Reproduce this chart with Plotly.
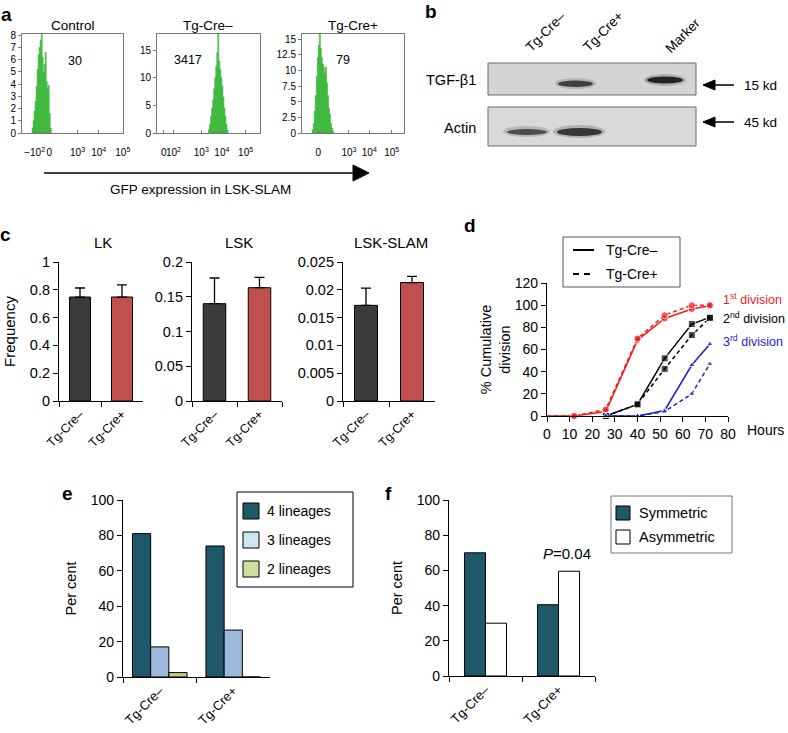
import plotly.graph_objects as go

W, H = 788, 733
FONT = "Arial, 'Liberation Sans', sans-serif"


def fx(x):
    return x / W


def fy(y):
    return 1 - y / H


# ---------------- data ----------------
# panel a: flow histograms (display units 0-100 across each box)
a_titles = ["Control", "Tg-Cre–", "Tg-Cre+"]
a_mfi = ["30", "3417", "79"]
ctrl_bins = list(range(10, 29))
ctrl_counts = [0.4, 1.0, 1.8, 2.6, 3.8, 5.2, 6.4, 7.0, 7.6, 8.1, 6.2, 5.0, 5.6, 6.6, 4.2, 3.6, 3.9, 1.6, 0.4]
neg_bins = list(range(50, 69))
neg_counts = [0.6, 1.5, 3.0, 4.5, 6.0, 8.0, 10.0, 12.0, 14.5, 17.9, 13.0, 11.5, 10.0, 8.5, 6.5, 4.5, 3.0, 1.5, 0.5]
pos_bins = list(range(10, 31))
pos_counts = [0.5, 1.5, 3.5, 6.0, 9.0, 12.0, 14.0, 15.8, 13.5, 12.0, 11.0, 10.5, 9.5, 10.5, 8.0, 6.0, 4.0, 3.0, 1.5, 0.8, 0.3]

ctrl_xticks = [12.5, 27, 55, 76, 99.8]
ctrl_xtext = ["−10<sup>2</sup>", "0", "10<sup>3</sup>", "10<sup>4</sup>", "10<sup>5</sup>"]
neg_xticks = [6.5, 16, 43, 63, 86]
neg_xtext = ["0", "10<sup>2</sup>", "10<sup>3</sup>", "10<sup>4</sup>", "10<sup>5</sup>"]
pos_xticks = [16, 46, 66, 88]
pos_xtext = ["0", "10<sup>3</sup>", "10<sup>4</sup>", "10<sup>5</sup>"]

ctrl_yticks = [0, 1, 2, 3, 4, 5, 6, 7, 8]
neg_yticks = [0, 5, 10, 15]
pos_yticks = [0, 2.5, 5, 7.5, 10, 12.5, 15]
pos_ytext = ["0", "2.5", "5", "7.5", "10", "12.5", "15"]

# panel c
c_cats = ["Tg-Cre–", "Tg-Cre+"]
c_titles = ["LK", "LSK", "LSK-SLAM"]
lk_vals = [0.748, 0.748]
lk_err = [0.065, 0.087]
lsk_vals = [0.14, 0.163]
lsk_err = [0.037, 0.015]
slam_vals = [0.0172, 0.0213]
slam_err = [0.0031, 0.0011]
lk_ticks = [0, 0.2, 0.4, 0.6, 0.8, 1]
lk_text = ["0", "0.2", "0.4", "0.6", "0.8", "1"]
lsk_ticks = [0, 0.05, 0.1, 0.15, 0.2]
lsk_text = ["0", "0.05", "0.1", "0.15", "0.2"]
slam_ticks = [0, 0.005, 0.01, 0.015, 0.02, 0.025]
slam_text = ["0", "0.005", "0.01", "0.015", "0.02", "0.025"]

# panel d
hours1 = [0, 12, 26, 40, 52, 64, 72]
first_neg = [0, 0, 4, 68.5, 88, 96.5, 99.5]
first_pos = [0, 0, 6, 70, 91, 100, 100]
hours23 = [26, 40, 52, 64, 72]
second_neg = [0, 10.5, 52, 83, 89]
second_pos = [0, 10.5, 42.5, 73, 88.5]
third_neg = [0, 0, 5, 46, 65]
third_pos = [0, 0, 4, 20, 47]

# panel e
e_cats = ["Tg-Cre–", "Tg-Cre+"]
e_series = ["4 lineages", "3 lineages", "2 lineages"]
e_4 = [81, 74]
e_3 = [17, 26.5]
e_2 = [2.5, 0]

# panel f
f_cats = ["Tg-Cre–", "Tg-Cre+"]
f_series = ["Symmetric", "Asymmetric"]
f_sym = [70, 40.5]
f_asym = [30, 59.5]

TEAL = "#1f5868"
GREEN = "rgba(80,205,80,0.85)"

fig = go.Figure()
layout = dict(
    width=W, height=H, margin=dict(l=0, r=0, t=0, b=0, autoexpand=False),
    plot_bgcolor="white", paper_bgcolor="white", showlegend=False,
    font=dict(family=FONT, color="black"), barmode="overlay",
)
shapes = []
ann = []


def text(x, y, s, size=13, xanchor="center", yanchor="middle", color="black", angle=0, bold=False):
    ann.append(dict(x=fx(x), y=fy(y), xref="paper", yref="paper", text=(f"<b>{s}</b>" if bold else s),
                    showarrow=False, xanchor=xanchor, yanchor=yanchor, textangle=angle,
                    font=dict(size=size, color=color, family=FONT)))


# ---------------- panel a ----------------
a_boxes = [(22, 123), (157, 260), (302, 404)]
a_top, a_bot = 34, 133
a_yr = [8.1, 17.9, 15.8]
a_bins = [ctrl_bins, neg_bins, pos_bins]
a_counts = [ctrl_counts, neg_counts, pos_counts]
a_xt = [(ctrl_xticks, ctrl_xtext), (neg_xticks, neg_xtext), (pos_xticks, pos_xtext)]
a_yt = [(ctrl_yticks, [str(v) for v in ctrl_yticks]), (neg_yticks, [str(v) for v in neg_yticks]), (pos_yticks, pos_ytext)]
a_mfi_pos = [(75, 61), (188, 60), (343, 60)]
for i in range(3):
    n = i + 1
    x0, x1 = a_boxes[i]
    layout[f"xaxis{n}"] = dict(domain=[fx(x0), fx(x1)], range=[0, 100], anchor=f"y{n}", automargin=False,
                               showline=True, mirror=True, linecolor="#777", linewidth=1,
                               ticks="inside", ticklen=3, tickcolor="#777", tickangle=0,
                               tickvals=a_xt[i][0], ticktext=a_xt[i][1], ticklabelstandoff=10,
                               tickfont=dict(size=10), showgrid=False, zeroline=False)
    layout[f"yaxis{n}"] = dict(domain=[fy(a_bot), fy(a_top)], range=[0, a_yr[i]], anchor=f"x{n}", automargin=False,
                               showline=True, mirror=True, linecolor="#777", linewidth=1,
                               ticks="outside", ticklen=3, tickcolor="#777",
                               tickvals=a_yt[i][0], ticktext=a_yt[i][1],
                               tickfont=dict(size=10), showgrid=False, zeroline=False)
    fig.add_trace(go.Bar(x=a_bins[i], y=a_counts[i], width=1, offset=0,
                         marker=dict(color=GREEN, line=dict(width=0.6, color="rgba(40,170,40,0.9)")),
                         xaxis=f"x{n}", yaxis=f"y{n}"))
    text((x0 + x1) / 2, 26, a_titles[i], size=13.5)
    text(a_mfi_pos[i][0], a_mfi_pos[i][1], a_mfi[i], size=12.5)

text(6, 15, "a", size=19, bold=True)
shapes.append(dict(type="line", xref="paper", yref="paper", x0=fx(44), x1=fx(354), y0=fy(173), y1=fy(173),
                   line=dict(color="black", width=1.3)))
shapes.append(dict(type="path", xref="paper", yref="paper",
                   path=f"M {fx(353)} {fy(165)} L {fx(369)} {fy(173)} L {fx(353)} {fy(181)} Z",
                   fillcolor="black", line=dict(color="black", width=1)))
text(200, 189, "GFP expression in LSK-SLAM", size=13.5)

# ---------------- panel b (blot) ----------------
text(431, 12, "b", size=19, bold=True)
shapes.append(dict(type="rect", xref="paper", yref="paper", x0=fx(488), x1=fx(696), y0=fy(63), y1=fy(95),
                   fillcolor="#d4d4d4", line=dict(color="#6a6a6a", width=1)))
shapes.append(dict(type="rect", xref="paper", yref="paper", x0=fx(488), x1=fx(696), y0=fy(107), y1=fy(146),
                   fillcolor="#d9d9d9", line=dict(color="#6a6a6a", width=1)))
for (bx0, bx1, by0, by1, col, op) in [
    (555, 596, 78, 89, "#777", 0.35), (558, 593, 80.5, 87, "#333", 0.9),
    (644, 686, 74, 86, "#666", 0.35), (647, 683, 76.5, 83.5, "#1a1a1a", 0.95),
    (503, 550, 126, 137, "#777", 0.35), (507, 547, 129, 135, "#3a3a3a", 0.85),
    (553, 605, 125, 138, "#666", 0.35), (557, 602, 128, 136, "#2a2a2a", 0.9),
]:
    shapes.append(dict(type="circle", xref="paper", yref="paper", x0=fx(bx0), x1=fx(bx1), y0=fy(by1), y1=fy(by0),
                       fillcolor=col, opacity=op, line=dict(width=0)))
text(546, 32, "Tg-Cre–", size=13.5, angle=-45)
text(603, 31, "Tg-Cre+", size=13.5, angle=-45)
text(683, 36, "Marker", size=13.5, angle=-45)
text(478, 80, "TGF-β1", size=14.5, xanchor="right")
text(478, 128, "Actin", size=14.5, xanchor="right")
for (ay, lab) in [(85, "15 kd"), (122, "45 kd")]:
    shapes.append(dict(type="line", xref="paper", yref="paper", x0=fx(712), x1=fx(734), y0=fy(ay), y1=fy(ay),
                       line=dict(color="black", width=1.5)))
    shapes.append(dict(type="path", xref="paper", yref="paper",
                       path=f"M {fx(703)} {fy(ay)} L {fx(715)} {fy(ay - 5)} L {fx(715)} {fy(ay + 5)} Z",
                       fillcolor="black", line=dict(color="black", width=1)))
    text(742, ay, lab, size=13.5, xanchor="left")

# ---------------- panel c ----------------
text(5, 235, "c", size=19, bold=True)
c_boxes = [(59, 143), (192, 282), (343, 435)]
c_vals = [lk_vals, lsk_vals, slam_vals]
c_errs = [lk_err, lsk_err, slam_err]
c_ranges = [1, 0.2, 0.025]
c_ticks = [(lk_ticks, lk_text), (lsk_ticks, lsk_text), (slam_ticks, slam_text)]
c_top, c_bot = 262, 401
for i in range(3):
    n = 4 + i
    x0, x1 = c_boxes[i]
    layout[f"xaxis{n}"] = dict(domain=[fx(x0), fx(x1)], type="category", range=[-0.5, 1.5], anchor=f"y{n}",
                               automargin=False,
                               showline=True, linecolor="black", linewidth=1.2, ticks="outside", ticklen=5,
                               tickcolor="black", tickson="boundaries", tickangle=-45,
                               tickfont=dict(size=12.5), showgrid=False, zeroline=False)
    layout[f"yaxis{n}"] = dict(domain=[fy(c_bot), fy(c_top)], range=[0, c_ranges[i]], anchor=f"x{n}",
                               automargin=False,
                               showline=True, linecolor="black", linewidth=1.2, ticks="outside", ticklen=5,
                               tickcolor="black", tickvals=c_ticks[i][0], ticktext=c_ticks[i][1],
                               tickfont=dict(size=14.5), showgrid=False, zeroline=False)
    fig.add_trace(go.Bar(x=c_cats, y=c_vals[i], width=0.5,
                         marker=dict(color=["#3b3b3b", "#c0504d"], line=dict(color="black", width=1)),
                         error_y=dict(type="data", array=c_errs[i], arrayminus=[0, 0], symmetric=False,
                                      color="black", thickness=1.3, width=5),
                         xaxis=f"x{n}", yaxis=f"y{n}"))
    text((x0 + x1) / 2 + 2, 242, c_titles[i], size=15)
layout["yaxis4"]["title"] = dict(text="Frequency", font=dict(size=15), standoff=10)

# ---------------- panel d ----------------
text(470, 225, "d", size=19, bold=True)
layout["xaxis7"] = dict(domain=[fx(547), fx(728)], range=[0, 80], anchor="y7", dtick=10, automargin=False,
                        showline=True, linecolor="black", linewidth=1.2, ticks="outside", ticklen=5,
                        tickcolor="black", tickfont=dict(size=14), showgrid=False, zeroline=False)
layout["yaxis7"] = dict(domain=[fy(416), fy(283)], range=[0, 120], anchor="x7", dtick=20, automargin=False,
                        showline=True, linecolor="black", linewidth=1.2, ticks="outside", ticklen=5,
                        tickcolor="black", tickfont=dict(size=14), showgrid=False, zeroline=False,
                        title=dict(text="% Cumulative<br>division", font=dict(size=14.5), standoff=0))
d_series = [
    (hours1, first_neg, "solid", "#ee1c1c", "circle", 7),
    (hours1, first_pos, "dash", "#ee1c1c", "circle", 7),
    (hours23, second_neg, "solid", "black", "square", 7),
    (hours23, second_pos, "dash", "black", "square", 7),
    (hours23, third_neg, "solid", "#1f1fcc", "triangle-up", 6),
    (hours23, third_pos, "dash", "#1f1fcc", "triangle-up", 6),
]
for (xs, ys, dash, col, sym, sz) in d_series:
    sizes = [0 if x == 0 else sz for x in xs]
    fig.add_trace(go.Scatter(x=xs, y=ys, mode="lines+markers", cliponaxis=False,
                             line=dict(color=col, width=1.5, dash=("4px,3px" if dash == "dash" else "solid")),
                             marker=dict(color=col, symbol=sym, size=sizes),
                             xaxis="x7", yaxis="y7"))
text(765, 430, "Hours", size=14)
text(721, 299, "1<sup>st</sup> division", size=12.5, xanchor="left", color="#ee1c1c")
text(721, 318, "2<sup>nd</sup> division", size=12.5, xanchor="left", color="black")
text(721, 341, "3<sup>rd</sup> division", size=12.5, xanchor="left", color="#1f1fcc")
shapes.append(dict(type="rect", xref="paper", yref="paper", x0=fx(563), x1=fx(680), y0=fy(287), y1=fy(237),
                   fillcolor="white", line=dict(color="#555", width=1)))
shapes.append(dict(type="line", xref="paper", yref="paper", x0=fx(573), x1=fx(594), y0=fy(250), y1=fy(250),
                   line=dict(color="black", width=2)))
shapes.append(dict(type="line", xref="paper", yref="paper", x0=fx(573), x1=fx(594), y0=fy(274), y1=fy(274),
                   line=dict(color="black", width=2, dash="6px,5px")))
text(604, 250, "Tg-Cre–", size=14, xanchor="left")
text(604, 274, "Tg-Cre+", size=14, xanchor="left")

# ---------------- panel e ----------------
text(67, 493, "e", size=19, bold=True)
layout["xaxis8"] = dict(domain=[fx(123), fx(270)], type="category", range=[-0.5, 1.5], anchor="y8",
                        automargin=False,
                        showline=True, linecolor="black", linewidth=1.2, ticks="outside", ticklen=5,
                        tickcolor="black", tickson="boundaries", tickangle=-45,
                        tickfont=dict(size=13), showgrid=False, zeroline=False)
layout["yaxis8"] = dict(domain=[fy(677), fy(500)], range=[0, 100], anchor="x8", dtick=20, automargin=False,
                        showline=True, linecolor="black", linewidth=1.2, ticks="outside", ticklen=5,
                        tickcolor="black", tickfont=dict(size=14), showgrid=False, zeroline=False,
                        title=dict(text="Per cent", font=dict(size=14.5), standoff=10))
e_vals = [e_4, e_3, e_2]
e_cols = [TEAL, "#9db9de", "#bccf72"]
e_w = 0.2475
for k in range(3):
    fig.add_trace(go.Bar(x=e_cats, y=e_vals[k], width=e_w, offset=-1.5 * e_w + k * e_w,
                         marker=dict(color=e_cols[k], line=dict(color="black", width=1)),
                         xaxis="x8", yaxis="y8"))
shapes.append(dict(type="rect", xref="paper", yref="paper", x0=fx(237), x1=fx(353), y0=fy(587), y1=fy(492),
                   fillcolor="white", line=dict(color="black", width=1)))
e_leg_cols = [TEAL, "#c9e8f0", "#cfdf9c"]
for k, yy in enumerate([511, 540, 569]):
    shapes.append(dict(type="rect", xref="paper", yref="paper", x0=fx(243), x1=fx(259), y0=fy(yy + 8), y1=fy(yy - 8),
                       fillcolor=e_leg_cols[k], line=dict(color="black", width=1)))
    text(265, yy, e_series[k], size=14, xanchor="left")

# ---------------- panel f ----------------
text(388, 493, "f", size=19, bold=True)
layout["xaxis9"] = dict(domain=[fx(449), fx(595)], type="category", range=[-0.5, 1.5], anchor="y9",
                        automargin=False,
                        showline=True, linecolor="black", linewidth=1.2, ticks="outside", ticklen=5,
                        tickcolor="black", tickson="boundaries", tickangle=-45,
                        tickfont=dict(size=13), showgrid=False, zeroline=False)
layout["yaxis9"] = dict(domain=[fy(676), fy(500)], range=[0, 100], anchor="x9", dtick=20, automargin=False,
                        showline=True, linecolor="black", linewidth=1.2, ticks="outside", ticklen=5,
                        tickcolor="black", tickfont=dict(size=14), showgrid=False, zeroline=False,
                        title=dict(text="Per cent", font=dict(size=14.5), standoff=10))
f_w = 0.288
for k, (vals, col) in enumerate([(f_sym, TEAL), (f_asym, "white")]):
    fig.add_trace(go.Bar(x=f_cats, y=vals, width=f_w, offset=-f_w + k * f_w,
                         marker=dict(color=col, line=dict(color="black", width=1)),
                         xaxis="x9", yaxis="y9"))
text(567, 553, "<i>P</i>=0.04", size=15)
shapes.append(dict(type="rect", xref="paper", yref="paper", x0=fx(611), x1=fx(732), y0=fy(553), y1=fy(496),
                   fillcolor="white", line=dict(color="#777", width=1)))
for k, (yy, col) in enumerate([(513, TEAL), (537, "white")]):
    shapes.append(dict(type="rect", xref="paper", yref="paper", x0=fx(616), x1=fx(630), y0=fy(yy + 7), y1=fy(yy - 7),
                       fillcolor=col, line=dict(color="black", width=1)))
    text(637, yy, f_series[k], size=14.5, xanchor="left")

layout["shapes"] = shapes
layout["annotations"] = ann
fig.update_layout(**layout)
fig.write_html("out.html", config={"displayModeBar": False},
               post_script="document.body.style.margin='0';document.body.style.overflow='hidden';")
